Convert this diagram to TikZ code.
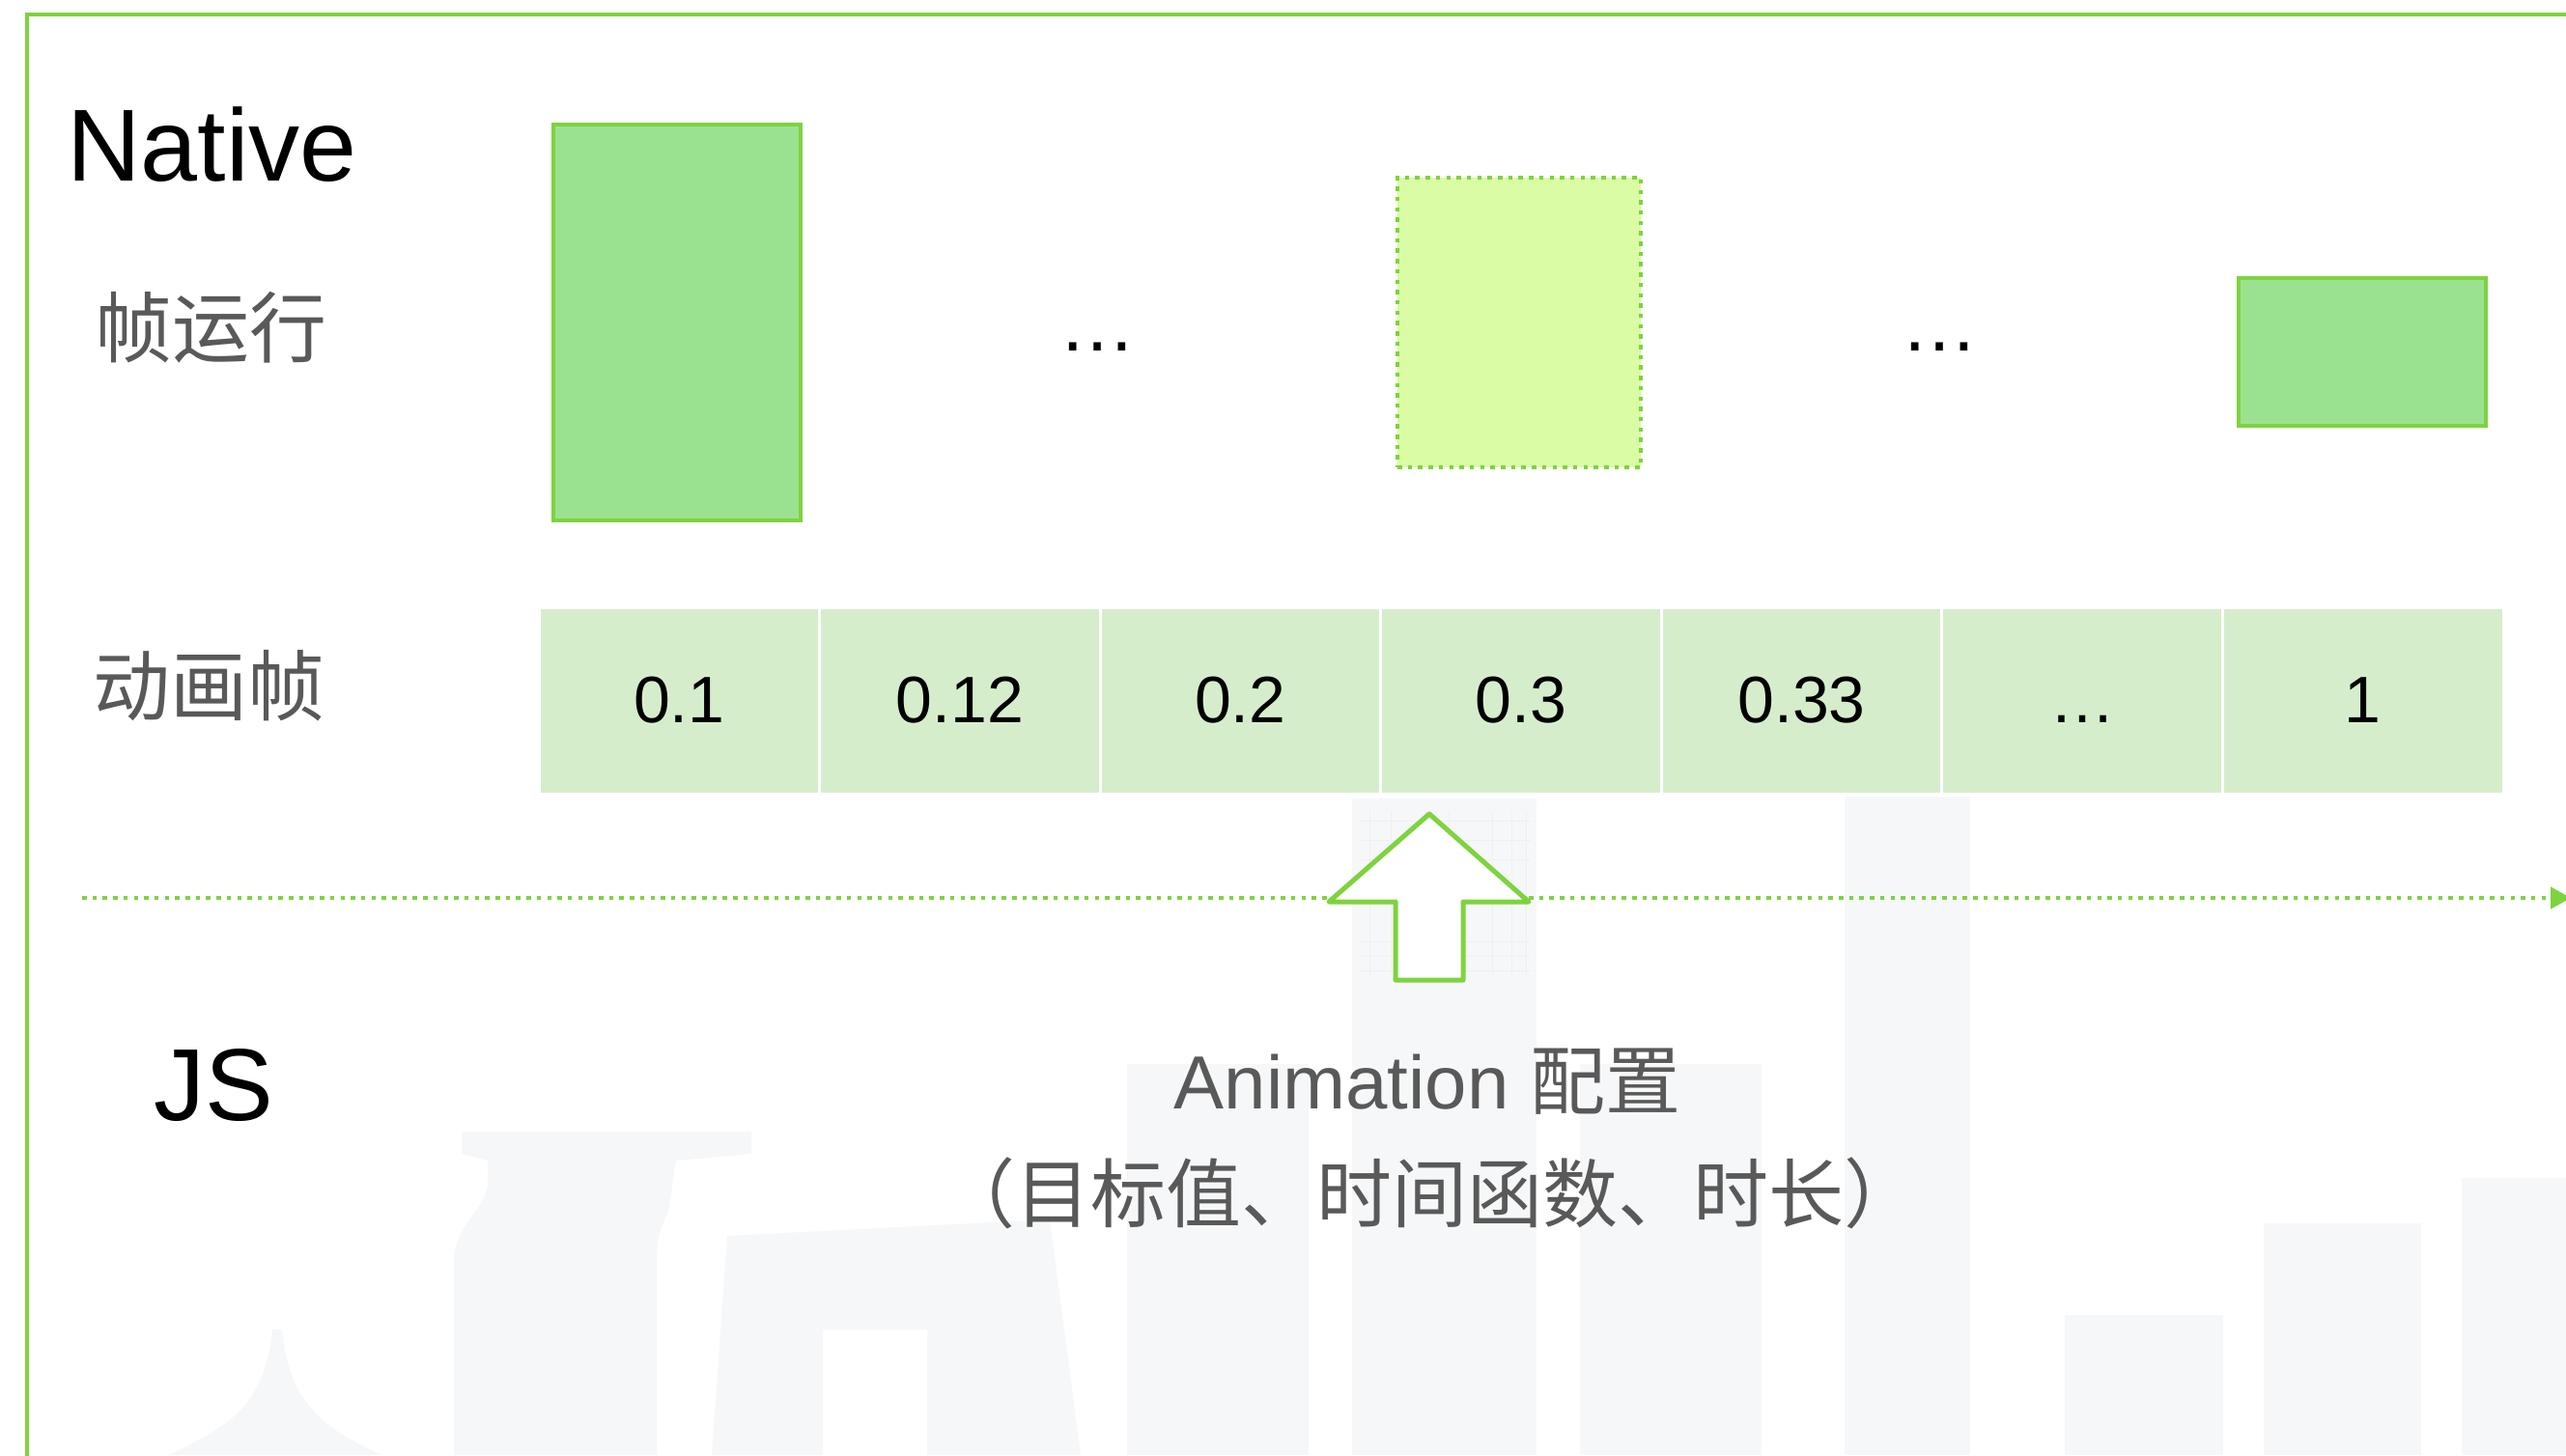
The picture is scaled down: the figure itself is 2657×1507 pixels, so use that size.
\documentclass[tikz,border=0pt]{standalone}
\usepackage{fontspec}
\setmainfont{Liberation Sans}
\newfontfamily\cjk{Noto Sans CJK SC}
\usetikzlibrary{arrows.meta}
\definecolor{frameg}{HTML}{7ED33F}
\definecolor{barfill}{HTML}{9BE290}
\definecolor{lightbar}{HTML}{D9FCA5}
\definecolor{cellfill}{HTML}{D6EDCC}
\definecolor{labelgray}{HTML}{595959}
\definecolor{bgshape}{HTML}{F6F7F9}
\definecolor{bgline}{HTML}{EEF0F2}
\newcommand\pxsize[1]{\fontsize{#1}{#1}\selectfont}
\tikzset{
  barbox/.style={draw=frameg, line width=4pt, fill=barfill, inner sep=0pt, minimum width=256pt},
  dotbox/.style={draw=frameg, line width=4.5pt, fill=lightbar, inner sep=0pt, dash pattern=on 4.5pt off 6.2pt},
  cell/.style={fill=cellfill, draw=white, line width=3pt, minimum width=290.57pt, minimum height=193pt, inner sep=0pt, font=\pxsize{68}},
  graylabel/.style={text=labelgray, inner sep=0pt},
  bigtitle/.style={inner sep=0pt, font=\pxsize{106}, anchor=base west},
  dotsym/.style={inner sep=0pt, font=\pxsize{80}, anchor=base},
  timeline/.style={draw=frameg, line width=4.5pt, dash pattern=on 4.5pt off 6.2pt, -{Triangle[length=21pt,width=22pt]}},
  blockarrow/.style={draw=frameg, fill=white, line width=5pt, line join=round},
  bg/.style={fill=bgshape, draw=none}
}
\begin{document}
\begin{tikzpicture}[x=1pt,y=-1pt]
\useasboundingbox (0,0) rectangle (2657,1507);
\clip (0,0) rectangle (2657,1507);
\fill[white] (0,0) rectangle (2657,1507);
% faint background skyline
\fill[bg] (1910,825) rectangle (2040,1507);
\fill[bg] (1400,827) rectangle (1591,1507);
\fill[bg] (1167,1102) rectangle (1355,1507);
\fill[bg] (1636,1102) rectangle (1824,1507);
\fill[bg] (2138,1362) rectangle (2302,1507);
\fill[bg] (2344,1267) rectangle (2507,1507);
\fill[bg] (2549,1220) rectangle (2657,1507);
\fill[bg] (478,1172) -- (778,1172) -- (778,1195) -- (700,1202) -- (692,1255)
  .. controls (680,1280) and (680,1290) .. (680,1305) -- (680,1507) -- (470,1507) -- (470,1305)
  .. controls (470,1270) and (505,1250) .. (505,1225) -- (505,1202) -- (478,1195) -- cycle;
\fill[bg] (753,1280) -- (1087,1263) -- (1119,1507) -- (960,1507) -- (960,1377) -- (852,1377) -- (852,1507) -- (737,1507) -- cycle;
\fill[bg] (282,1377) -- (292,1377) .. controls (300,1460) and (340,1480) .. (395,1507) -- (175,1507) .. controls (230,1480) and (275,1460) .. (282,1377) -- cycle;
\foreach \gx in {1418,1440,1500,1545,1565,1580} \draw[bgline, line width=1pt] (\gx,840) -- (\gx,1010);
\foreach \gy in {850,870,890,975,990,1005} \draw[bgline, line width=1pt] (1410,\gy) -- (1585,\gy);
% frame
\draw[frameg, line width=4pt] (28,15) rectangle (2720,1580);
% titles
\node[bigtitle] (native) at (69,187) {Native};
\node[bigtitle] (js) at (159,1160) {JS};
\node[graylabel, font=\cjk\pxsize{80}] (runlabel) at (218,339) {帧运行};
\node[graylabel, font=\cjk\pxsize{80}] (framelabel) at (216,710) {动画帧};
% frame boxes
\node[barbox, minimum height=410pt] (b1) at (701,334) {};
\node[dotbox, minimum width=252pt, minimum height=300pt] (b2) at (1573,334) {};
\node[barbox, minimum height=153pt] (b3) at (2446,364.5) {};
\node[dotsym] (e1) at (1136,363) {…};
\node[dotsym] (e2) at (2008,363) {…};
% animation frames row
\node[cell] (c1) at (703.3,725.5) {0.1};
\node[cell] (c2) at (993.9,725.5) {0.12};
\node[cell] (c3) at (1284.4,725.5) {0.2};
\node[cell] (c4) at (1575.0,725.5) {0.3};
\node[cell] (c5) at (1865.6,725.5) {0.33};
\node[cell] (c6) at (2156.1,725.5) {\vphantom{0}…};
\node[cell] (c7) at (2446.7,725.5) {1};
% timeline
\coordinate (tls) at (85,930);
\coordinate (tle) at (2662,930);
\draw[timeline] (tls) -- (tle);
% block arrow
\draw[blockarrow] (1445,1015) -- (1445,934) -- (1376,934) -- (1480,843) -- (1583,934) -- (1515,934) -- (1515,1015) -- cycle;
% JS config text
\node[graylabel, anchor=base, font=\pxsize{78}] (cfg) at (1478,1148) {Animation {\cjk 配置}};
\node[graylabel, font=\cjk\pxsize{78}] (cfg2) at (1480,1236) {（目标值、时间函数、时长）};
\end{tikzpicture}
\end{document}
